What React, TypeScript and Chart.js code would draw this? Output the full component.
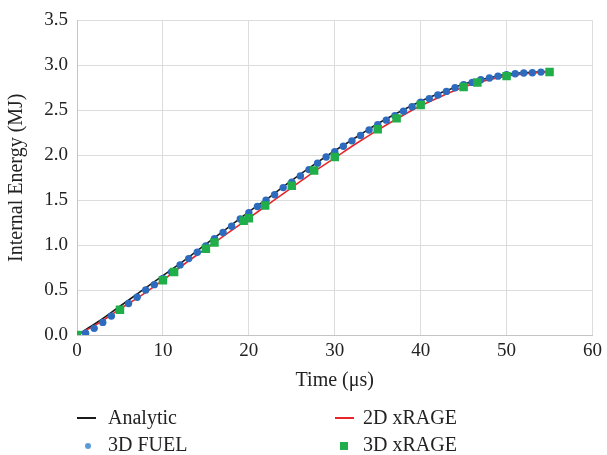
import React, { useEffect, useRef } from "react";
import { Chart, registerables } from "chart.js";

Chart.register(...registerables);

const analyticT = [0, 2.5, 5, 7.5, 10, 12.5, 15, 17.5, 20, 22.5, 25, 27.5, 30, 32.5, 35, 37.5, 40, 42.5, 45, 47.5, 50, 52.5, 55];
const analyticE = [0, 0.15, 0.32, 0.49, 0.66, 0.83, 1.01, 1.19, 1.37, 1.54, 1.72, 1.89, 2.05, 2.2, 2.35, 2.48, 2.6, 2.7, 2.79, 2.85, 2.9, 2.92, 2.93];

const xrage2dT = [0, 2.5, 5, 7.5, 10, 12.5, 15, 17.5, 20, 22.5, 25, 27.5, 30, 32.5, 35, 37.5, 40, 42.5, 45, 47.5, 50, 52.5, 55];
const xrage2dE = [0, 0.13, 0.29, 0.44, 0.61, 0.79, 0.96, 1.13, 1.3, 1.47, 1.64, 1.81, 1.97, 2.13, 2.28, 2.42, 2.55, 2.66, 2.76, 2.83, 2.88, 2.91, 2.93];

const fuelT = [1, 2, 3, 4, 5, 6, 7, 8, 9, 10, 11, 12, 13, 14, 15, 16, 17, 18, 19, 20, 21, 22, 23, 24, 25, 26, 27, 28, 29, 30, 31, 32, 33, 34, 35, 36, 37, 38, 39, 40, 41, 42, 43, 44, 45, 46, 47, 48, 49, 50, 51, 52, 53, 54, 55];
const fuelE = [0.02, 0.074, 0.14, 0.21, 0.28, 0.35, 0.42, 0.5, 0.56, 0.63, 0.7, 0.78, 0.85, 0.92, 0.99, 1.07, 1.14, 1.21, 1.29, 1.36, 1.43, 1.5, 1.56, 1.64, 1.7, 1.77, 1.84, 1.91, 1.98, 2.04, 2.1, 2.16, 2.22, 2.28, 2.34, 2.39, 2.44, 2.49, 2.54, 2.59, 2.63, 2.67, 2.71, 2.75, 2.785, 2.81, 2.84, 2.86, 2.88, 2.895, 2.906, 2.914, 2.917, 2.925, 2.93];

const xrage3dT = [0, 5, 10, 11.3, 15, 16, 19.4, 20, 21.9, 25, 27.6, 30, 35, 37.2, 40, 45, 46.6, 50, 55];
const xrage3dE = [0, 0.28, 0.61, 0.7, 0.96, 1.03, 1.27, 1.3, 1.44, 1.66, 1.83, 1.98, 2.29, 2.41, 2.56, 2.76, 2.81, 2.88, 2.925];

const xTicks = [0, 10, 20, 30, 40, 50, 60];
const yTicks = [0, 0.5, 1, 1.5, 2, 2.5, 3, 3.5];

const labels = ["Analytic", "2D xRAGE", "3D FUEL", "3D xRAGE"];

const FONT = "'Liberation Serif', 'Times New Roman', serif";

const zip = (t: number[], e: number[]) => t.map((x, i) => ({ x, y: e[i] }));

export default function App() {
  const ref = useRef<HTMLCanvasElement | null>(null);
  useEffect(() => {
    document.body.style.margin = "0";
    const canvas = ref.current!;
    const chart = new Chart(canvas, {
      type: "scatter",
      data: {
        datasets: [
          {
            type: "line",
            label: labels[0],
            data: zip(analyticT, analyticE),
            borderColor: "#1a1a1a",
            borderWidth: 1.6,
            pointRadius: 0,
            cubicInterpolationMode: "monotone",
            order: 4,
          } as any,
          {
            type: "line",
            label: labels[1],
            data: zip(xrage2dT, xrage2dE),
            borderColor: "#e8252b",
            borderWidth: 1.6,
            pointRadius: 0,
            cubicInterpolationMode: "monotone",
            order: 3,
          } as any,
          {
            label: labels[2],
            data: zip(fuelT, fuelE),
            backgroundColor: "#2d6bbf",
            borderColor: "#2d6bbf",
            borderWidth: 0,
            pointRadius: 3.7,
            pointStyle: "circle",
            order: 2,
          },
          {
            label: labels[3],
            data: zip(xrage3dT, xrage3dE),
            backgroundColor: "#1fae4a",
            borderColor: "#1fae4a",
            borderWidth: 0,
            pointRadius: 6,
            pointStyle: "rect",
            order: 1,
          },
        ],
      },
      options: {
        animation: false,
        responsive: false,
        events: [],
        layout: { padding: { left: 0, right: 11, top: 18, bottom: 60 } },
        plugins: { legend: { display: false }, tooltip: { enabled: false } },
        scales: {
          x: {
            type: "linear",
            min: 0,
            max: 60,
            afterFit: (s: any) => {
              s.height = 60;
            },
            afterBuildTicks: (s: any) => {
              s.ticks = xTicks.map((v) => ({ value: v }));
            },
            ticks: { color: "#222", font: { family: FONT, size: 19 }, padding: 5, maxRotation: 0 },
            grid: { color: "#dcdcdc", lineWidth: 1, drawTicks: false },
            border: { color: "#c4c4c4" },
            title: { display: true, text: "Time (μs)", color: "#222", font: { family: FONT, size: 20 }, padding: { top: 0, bottom: 2 } },
          },
          y: {
            type: "linear",
            min: 0,
            max: 3.5,
            afterFit: (s: any) => {
              s.width = 77;
            },
            afterBuildTicks: (s: any) => {
              s.ticks = yTicks.map((v) => ({ value: v }));
            },
            ticks: {
              color: "#222",
              font: { family: FONT, size: 19 },
              padding: 9,
              callback: (v: any) => Number(v).toFixed(1),
            },
            grid: { color: "#dcdcdc", lineWidth: 1, drawTicks: false },
            border: { color: "#c4c4c4" },
            title: { display: true, text: "Internal Energy (MJ)", color: "#222", font: { family: FONT, size: 20 }, padding: { top: 5, bottom: 0 } },
          },
        },
      },
    });
    return () => chart.destroy();
  }, []);

  const text: React.CSSProperties = {
    position: "absolute",
    fontFamily: FONT,
    fontSize: 20,
    color: "#222",
    lineHeight: "20px",
    whiteSpace: "nowrap",
  };

  return (
    <div style={{ position: "relative", width: 607, height: 455 }}>
      <canvas ref={ref} width={607} height={455} style={{ display: "block", width: 607, height: 455 }} />
      <div style={{ position: "absolute", left: 77, top: 417, width: 19, height: 1.6, background: "#1a1a1a" }} />
      <div style={{ ...text, left: 108, top: 407 }}>{labels[0]}</div>
      <div style={{ position: "absolute", left: 335, top: 417, width: 19, height: 1.6, background: "#e8252b" }} />
      <div style={{ ...text, left: 363, top: 407 }}>{labels[1]}</div>
      <div style={{ position: "absolute", left: 85, top: 443, width: 6, height: 6, borderRadius: 3, background: "#5b9bd5" }} />
      <div style={{ ...text, left: 108, top: 434 }}>{labels[2]}</div>
      <div style={{ position: "absolute", left: 340, top: 442, width: 8, height: 8, background: "#1fae4a" }} />
      <div style={{ ...text, left: 363, top: 434 }}>{labels[3]}</div>
    </div>
  );
}
